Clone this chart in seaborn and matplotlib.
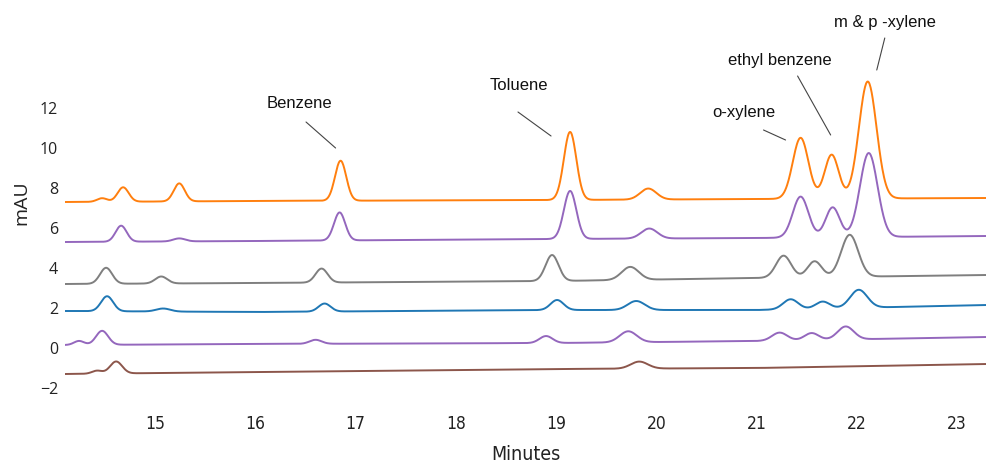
import numpy as np
import pandas as pd
import matplotlib
matplotlib.use("Agg")
import matplotlib.pyplot as plt
import seaborn as sns

# ---------------- data ----------------
trace_names = ["run1", "run2", "run3", "run4", "run5", "run6"]
trace_colors = ["#ff7f0e", "#9467bd", "#7f7f7f", "#1f77b4", "#9467bd", "#8c564b"]

# baseline (mAU) at these retention times, per trace
baseline_t = [14.1, 16.0, 19.0, 21.0, 23.3]
baseline_run1 = [7.30, 7.35, 7.40, 7.45, 7.50]
baseline_run2 = [5.30, 5.35, 5.45, 5.50, 5.60]
baseline_run3 = [3.20, 3.25, 3.35, 3.50, 3.65]
baseline_run4 = [1.85, 1.80, 1.90, 1.90, 2.15]
baseline_run5 = [0.15, 0.20, 0.25, 0.35, 0.55]
baseline_run6 = [-1.30, -1.20, -1.05, -1.00, -0.80]

# peaks: retention time (min), height above baseline (mAU), width (min)
peak_t_run1 = [14.47, 14.68, 15.24, 16.85, 19.14, 19.92, 21.44, 21.75, 22.11]
peak_h_run1 = [0.18, 0.72, 0.90, 2.00, 3.40, 0.55, 3.05, 2.20, 5.85]
peak_w_run1 = [0.05, 0.055, 0.055, 0.056, 0.062, 0.08, 0.078, 0.07, 0.088]

peak_t_run2 = [14.66, 15.24, 16.84, 19.14, 19.93, 21.44, 21.76, 22.12]
peak_h_run2 = [0.80, 0.15, 1.40, 2.40, 0.50, 2.05, 1.50, 4.20]
peak_w_run2 = [0.055, 0.06, 0.056, 0.062, 0.08, 0.078, 0.07, 0.088]

peak_t_run3 = [14.51, 15.06, 16.66, 18.96, 19.74, 21.27, 21.58, 21.93]
peak_h_run3 = [0.80, 0.35, 0.70, 1.30, 0.65, 1.10, 0.80, 2.10]
peak_w_run3 = [0.06, 0.06, 0.06, 0.065, 0.085, 0.075, 0.07, 0.085]

peak_t_run4 = [14.52, 15.08, 16.69, 19.01, 19.80, 21.34, 21.66, 22.02]
peak_h_run4 = [0.75, 0.15, 0.40, 0.50, 0.45, 0.50, 0.35, 0.90]
peak_w_run4 = [0.06, 0.07, 0.06, 0.065, 0.085, 0.075, 0.07, 0.085]

peak_t_run5 = [14.24, 14.47, 16.60, 18.90, 19.72, 21.23, 21.55, 21.89]
peak_h_run5 = [0.20, 0.70, 0.20, 0.35, 0.55, 0.40, 0.35, 0.65]
peak_w_run5 = [0.05, 0.06, 0.06, 0.065, 0.085, 0.075, 0.07, 0.08]

peak_t_run6 = [14.42, 14.61, 19.83]
peak_h_run6 = [0.15, 0.60, 0.35]
peak_w_run6 = [0.05, 0.06, 0.085]

x_ticks = [15, 16, 17, 18, 19, 20, 21, 22, 23]
y_ticks = [-2, 0, 2, 4, 6, 8, 10, 12]

ann_labels = ["Benzene", "Toluene", "o-xylene", "ethyl benzene", "m & p -xylene"]
ann_text_x = [16.44, 18.63, 20.87, 21.23, 22.28]
ann_text_y = [12.2, 13.1, 11.8, 14.4, 16.3]
ann_line_x0 = [16.505, 18.62, 21.07, 21.41, 22.28]
ann_line_y0 = [11.3, 11.8, 10.9, 13.6, 15.5]
ann_line_x1 = [16.80, 18.95, 21.29, 21.74, 22.20]
ann_line_y1 = [10.0, 10.6, 10.4, 10.65, 13.9]

# ---------------- build traces ----------------
baselines = [baseline_run1, baseline_run2, baseline_run3,
             baseline_run4, baseline_run5, baseline_run6]
peaks = [(peak_t_run1, peak_h_run1, peak_w_run1),
         (peak_t_run2, peak_h_run2, peak_w_run2),
         (peak_t_run3, peak_h_run3, peak_w_run3),
         (peak_t_run4, peak_h_run4, peak_w_run4),
         (peak_t_run5, peak_h_run5, peak_w_run5),
         (peak_t_run6, peak_h_run6, peak_w_run6)]

t = np.linspace(14.1, 23.3, 1800)
frames = []
for name, base, (pt, ph, pw) in zip(trace_names, baselines, peaks):
    y = np.interp(t, baseline_t, base)
    for c, h, w in zip(pt, ph, pw):
        y = y + h * np.exp(-0.5 * ((t - c) / w) ** 2)
    frames.append(pd.DataFrame({"Minutes": t, "mAU": y, "run": name}))
df = pd.concat(frames, ignore_index=True)

# ---------------- plot ----------------
sns.set_theme(style="white")
plt.rcParams["font.family"] = ["Open Sans", "DejaVu Sans"]

fig = plt.figure(figsize=(9.87, 4.63), dpi=100)
ax = fig.add_axes([65 / 987, 58 / 463, 1 - 65 / 987, 1 - 58 / 463])

palette = dict(zip(trace_names, trace_colors))
sns.lineplot(data=df, x="Minutes", y="mAU", hue="run", palette=palette,
             hue_order=trace_names[::-1], linewidth=1.4, legend=False,
             ax=ax, sort=False, estimator=None)

ax.set_xlim(14.1, 23.3)
ax.set_ylim(-2.85, 17.4)
ax.set_xticks(x_ticks)
ax.set_yticks(y_ticks)
ax.set_yticklabels(["\u22122" if v < 0 else str(v) for v in y_ticks])
for s in ax.spines.values():
    s.set_visible(False)
ax.tick_params(axis="both", which="both", direction="out", length=3,
               width=0.8, color="#999999", labelcolor="#222222")
ax.tick_params(axis="y", pad=2, labelsize=11.5)
ax.tick_params(axis="x", pad=4, labelsize=12.5)
for lab in ax.get_xticklabels():
    lab.set_family(["DejaVu Sans"])
    lab.set_fontstretch("condensed")

ax.set_xlabel("Minutes", fontsize=14, family=["DejaVu Sans"],
              fontstretch="condensed", color="#222222", labelpad=9)
ax.set_ylabel("mAU", fontsize=14, color="#222222", labelpad=7)

for lab, tx, ty, x0, y0, x1, y1 in zip(ann_labels, ann_text_x, ann_text_y,
                                       ann_line_x0, ann_line_y0,
                                       ann_line_x1, ann_line_y1):
    ax.text(tx, ty, lab, ha="center", va="center", fontsize=12,
            family=["Liberation Sans", "DejaVu Sans"], color="#111111")
    ax.annotate("", xy=(x1, y1), xytext=(x0, y0),
                arrowprops=dict(arrowstyle="-", color="#444444", lw=0.8,
                                shrinkA=0, shrinkB=0))

fig.savefig("out.png", dpi=100)
